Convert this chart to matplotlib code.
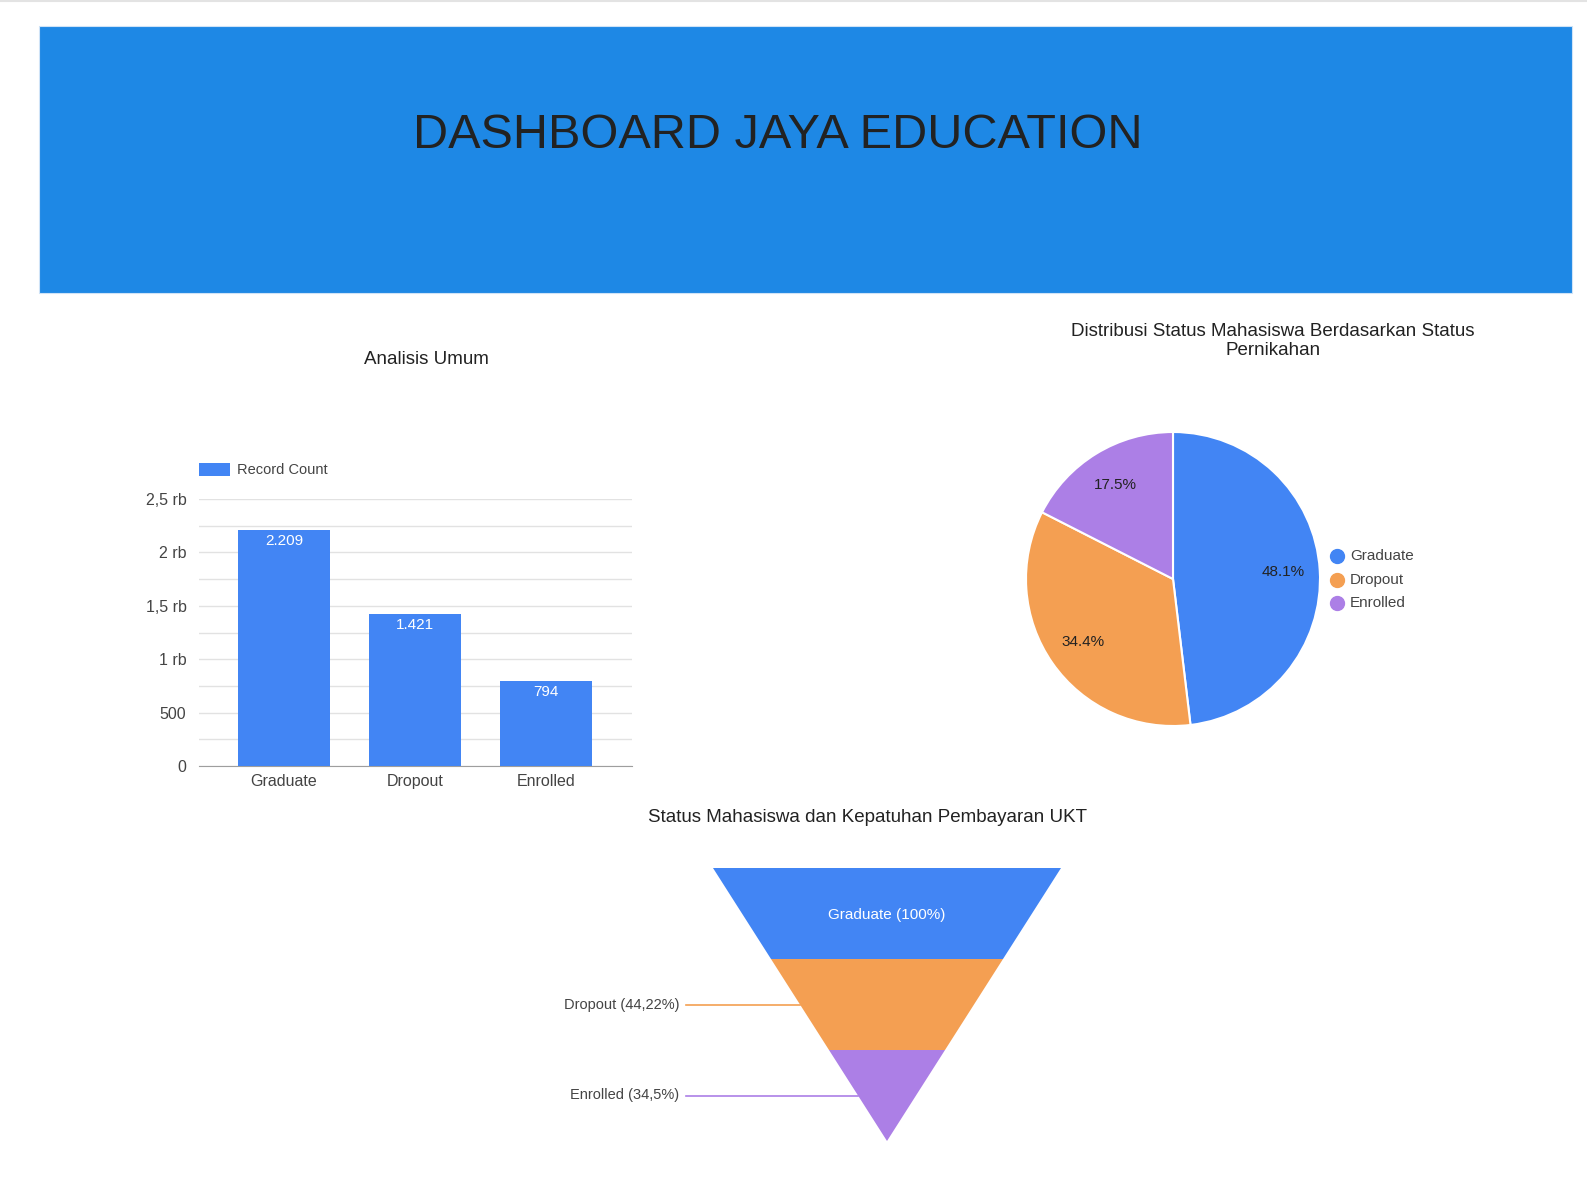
import matplotlib.pyplot as plt
from matplotlib.patches import Rectangle, Polygon
from matplotlib.lines import Line2D

# data
categories = ['Graduate', 'Dropout', 'Enrolled']
record_count = [2209, 1421, 794]
bar_labels = ['2.209', '1.421', '794']
y_ticks = [0, 500, 1000, 1500, 2000, 2500]
y_tick_labels = ['0', '500', '1 rb', '1,5 rb', '2 rb', '2,5 rb']
pie_pct = [48.1, 34.4, 17.5]
funnel_labels = ['Graduate (100%)', 'Dropout (44,22%)', 'Enrolled (34,5%)']

colors = ['#4285F4', '#F49F52', '#AC7FE6']
TXT = '#444444'
TITLE = '#222222'

plt.rcParams['font.family'] = ['Liberation Sans', 'DejaVu Sans']

W, H = 1587, 1192
fig = plt.figure(figsize=(W / 100, H / 100), dpi=100)
fig.patch.set_facecolor('white')


def ax_px(l, t, r, b):
    return fig.add_axes([l / W, 1 - b / H, (r - l) / W, (b - t) / H])


def fx(x):
    return x / W


def fy(y):
    return 1 - y / H


# top border line and header
fig.add_artist(Line2D([0, 1], [fy(0.5), fy(0.5)], color='#e3e3e3', lw=1.5))
fig.add_artist(Rectangle((fx(39), fy(293)), fx(1572) - fx(39), fy(26) - fy(293),
                         facecolor='#1E88E5', edgecolor='#cfe3f7', lw=0.8))
fig.text(fx(778), fy(135), 'DASHBOARD JAYA EDUCATION', ha='center', va='center',
         fontsize=35, color='#222222',
         family=['Liberation Sans Narrow', 'Liberation Sans', 'DejaVu Sans'])

# ---- bar chart
ax = ax_px(199, 499, 632, 766)
x = list(range(len(categories)))
ax.bar(x, record_count, width=0.70, color=colors[0], zorder=3)
for i, v in enumerate(record_count):
    ax.text(i, v - 35, bar_labels[i], ha='center', va='top', color='white', fontsize=11, zorder=4)
ax.set_xlim(-0.649, 2.653)
ax.set_ylim(0, 2500)
ax.set_yticks(y_ticks)
ax.set_yticklabels(y_tick_labels)
ax.set_yticks(list(range(250, 2500, 500)), minor=True)
ax.set_xticks(x)
ax.set_xticklabels(categories)
ax.tick_params(axis='y', which='both', length=0, pad=9, labelsize=11.5, labelcolor=TXT)
ax.tick_params(axis='x', length=0, pad=6, labelsize=11.5, labelcolor=TXT)
ax.grid(axis='y', which='both', color='#e2e2e2', lw=1, zorder=0)
for s in ['top', 'right', 'left']:
    ax.spines[s].set_visible(False)
ax.spines['bottom'].set_color('#9e9e9e')
ax.set_facecolor('white')
fig.add_artist(Rectangle((fx(199), fy(476)), fx(230) - fx(199), fy(463) - fy(476),
                         facecolor=colors[0], edgecolor='none'))
fig.text(fx(237), fy(469.5), 'Record Count', ha='left', va='center', fontsize=10.5, color=TXT)
fig.text(fx(426), fy(359), 'Analisis Umum', ha='center', va='center', fontsize=13.5, color=TITLE)

# ---- pie chart
axp = ax_px(1026, 432, 1320, 726)
wedges, texts, autotexts = axp.pie(pie_pct, colors=colors, startangle=90, counterclock=False,
                                   autopct=lambda p: f'{p:.1f}%', pctdistance=0.75,
                                   wedgeprops=dict(edgecolor='white', linewidth=1.5),
                                   textprops=dict(fontsize=11, color='#222222'))
axp.set_aspect('equal')
axp.set_xlim(-1.0, 1.0)
axp.set_ylim(-1.0, 1.0)
for i, name in enumerate(categories):
    yy = 556 + i * 23.5
    fig.add_artist(Line2D([fx(1337)], [fy(yy)], marker='o', markersize=10, color=colors[i],
                          linestyle='none'))
    fig.text(fx(1350), fy(yy), name, ha='left', va='center', fontsize=11, color=TXT)
fig.text(fx(1273), fy(341), 'Distribusi Status Mahasiswa Berdasarkan Status\nPernikahan',
         ha='center', va='center', fontsize=13.5, color=TITLE, linespacing=1.2)

# ---- funnel
fig.text(fx(868), fy(818), 'Status Mahasiswa dan Kepatuhan Pembayaran UKT',
         ha='center', va='center', fontsize=13.5, color=TITLE)
axf = ax_px(0, 850, W, 1160)
axf.set_xlim(0, W)
axf.set_ylim(1160, 850)
axf.axis('off')
top, apex, cx, half = 868, 1141, 887, 174
n = len(funnel_labels)
seg = (apex - top) / n


def hw(y):
    return half * (apex - y) / (apex - top)


for i, lab in enumerate(funnel_labels):
    y0 = top + i * seg
    y1 = y0 + seg
    axf.add_patch(Polygon([(cx - hw(y0), y0), (cx + hw(y0), y0), (cx + hw(y1), y1), (cx - hw(y1), y1)],
                          closed=True, facecolor=colors[i], edgecolor='none'))
    ym = (y0 + y1) / 2
    if i == 0:
        axf.text(cx, ym + 2, lab, ha='center', va='center', color='white', fontsize=11)
    else:
        axf.plot([686, cx - hw(ym)], [ym, ym], color=colors[i], lw=1.2)
        axf.text(679, ym, lab, ha='right', va='center', color=TXT, fontsize=10.5)

fig.savefig('out.png', dpi=100, facecolor='white')
